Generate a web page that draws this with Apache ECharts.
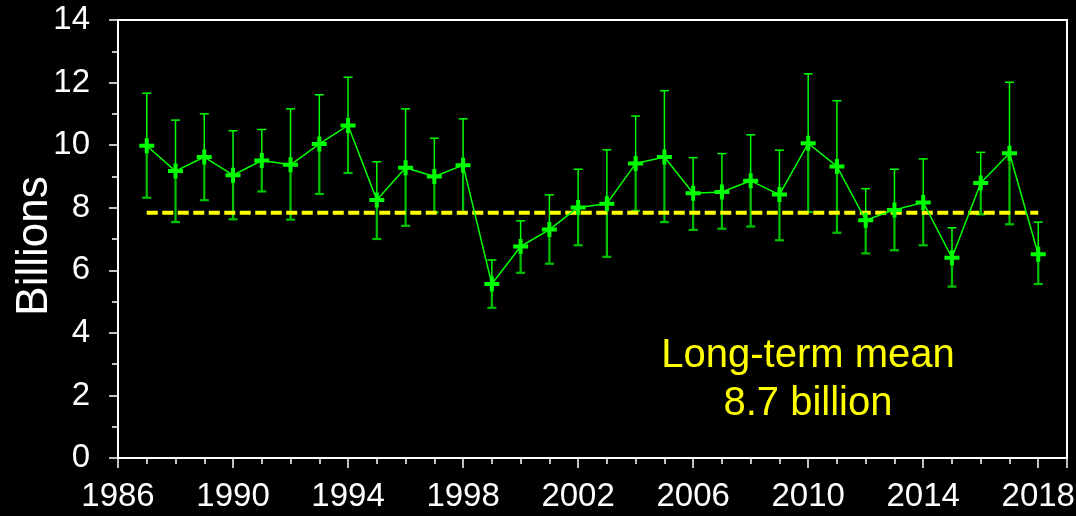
<!DOCTYPE html>
<html>
<head>
<meta charset="utf-8">
<style>
  html, body { margin: 0; padding: 0; background: #000; }
  #chart { width: 1076px; height: 516px; }
</style>
<script src="https://cdn.jsdelivr.net/npm/echarts@6/dist/echarts.min.js"></script>
</head>
<body>
<div id="chart"></div>
<script>
// yearly estimate, in billions, with upper / lower error bar ends
var years = [1987, 1988, 1989, 1990, 1991, 1992, 1993, 1994, 1995, 1996,
  1997, 1998, 1999, 2000, 2001, 2002, 2003, 2004, 2005, 2006,
  2007, 2008, 2009, 2010, 2011, 2012, 2013, 2014, 2015, 2016,
  2017, 2018];
var estimate = [9.98, 9.17, 9.62, 9.04, 9.51, 9.37, 10.04, 10.63, 8.25, 9.28,
  9.00, 9.36, 5.56, 6.76, 7.30, 8.01, 8.13, 9.41, 9.62, 8.46,
  8.50, 8.86, 8.42, 10.06, 9.32, 7.60, 7.93, 8.17, 6.40, 8.79,
  9.74, 6.51];
var upper = [11.66, 10.80, 11.00, 10.46, 10.50, 11.16, 11.61, 12.17, 9.47, 11.16,
  10.22, 10.84, 6.33, 7.58, 8.41, 9.23, 9.85, 10.93, 11.74, 9.60,
  9.73, 10.33, 9.84, 12.28, 11.42, 8.61, 9.23, 9.56, 7.36, 9.77,
  12.01, 7.54];
var lower = [8.32, 7.54, 8.24, 7.63, 8.52, 7.62, 8.44, 9.11, 7.00, 7.42,
  7.85, 7.82, 4.80, 5.92, 6.21, 6.80, 6.43, 7.90, 7.54, 7.29,
  7.33, 7.40, 6.96, 7.86, 7.20, 6.54, 6.64, 6.80, 5.48, 7.79,
  7.47, 5.56];
var meanLevel = 7.84;
var yTicks = [0, 2, 4, 6, 8, 10, 12, 14];

var chart = echarts.init(document.getElementById('chart'));

var font = '"Liberation Sans", Arial, sans-serif';

var barData = years.map(function (y, i) {
  return [y, lower[i], upper[i], estimate[i]];
});

function renderErrorBar(params, api) {
  var x = api.value(0);
  var pLo = api.coord([x, api.value(1)]);
  var pHi = api.coord([x, api.value(2)]);
  var pMid = api.coord([x, api.value(3)]);
  var w = 4.5;
  return {
    type: 'group',
    children: [
      { type: 'line', shape: { x1: pMid[0], y1: pMid[1], x2: pHi[0], y2: pHi[1] },
        style: { stroke: '#00ff00', lineWidth: 1.5 } },
      { type: 'line', shape: { x1: pHi[0] - w, y1: pHi[1], x2: pHi[0] + w, y2: pHi[1] },
        style: { stroke: '#00ff00', lineWidth: 1.5 } },
      { type: 'line', shape: { x1: pMid[0], y1: pMid[1], x2: pLo[0], y2: pLo[1] },
        style: { stroke: '#00c400', lineWidth: 2.2 } },
      { type: 'line', shape: { x1: pLo[0] - w, y1: pLo[1], x2: pLo[0] + w, y2: pLo[1] },
        style: { stroke: '#00c400', lineWidth: 2.2 } }
    ]
  };
}

var option = {
  backgroundColor: '#000',
  animation: false,
  grid: {
    left: 118, right: 9, top: 20, bottom: 58,
    outerBoundsMode: 'none', containLabel: false,
    show: true, borderColor: '#fff', borderWidth: 2, backgroundColor: 'transparent'
  },
  xAxis: [
    {
      type: 'value', min: 1986, max: 2019, interval: 1,
      axisLine: { show: true, onZero: false, lineStyle: { color: '#fff', width: 2 } },
      axisTick: { show: true, length: 6, lineStyle: { color: '#fff', width: 1.5 } },
      axisLabel: { show: false },
      splitLine: { show: false }
    },
    {
      type: 'value', min: 1986, max: 2019, interval: 4, position: 'bottom',
      axisLine: { show: false },
      axisTick: { show: true, length: 10, lineStyle: { color: '#fff', width: 1.5 } },
      axisLabel: {
        color: '#fff', fontSize: 33, fontFamily: font, margin: 22,
        formatter: function (v) { return v === 2019 ? '' : String(v); }
      },
      splitLine: { show: false }
    }
  ],
  yAxis: {
    type: 'value', min: yTicks[0], max: yTicks[yTicks.length - 1], interval: 2,
    name: 'Billions', nameLocation: 'middle', nameGap: 61, nameMoveOverlap: false,
    nameTextStyle: { color: '#fff', fontSize: 44, fontFamily: font, padding: [0, 14, 0, 0] },
    axisLine: { show: true, lineStyle: { color: '#fff', width: 2 } },
    axisTick: { show: true, length: 9, lineStyle: { color: '#fff', width: 1.5 } },
    minorTick: { show: true, splitNumber: 2, length: 6, lineStyle: { color: '#fff', width: 1.5 } },
    axisLabel: { color: '#fff', fontSize: 33, fontFamily: font, margin: 28 },
    splitLine: { show: false }
  },
  graphic: [
    {
      type: 'text', x: 808, y: 332,
      style: {
        text: 'Long-term mean\n8.7 billion', fill: '#ffff00',
        fontSize: 40, lineHeight: 48, fontFamily: font,
        align: 'center', verticalAlign: 'top'
      }
    }
  ],
  series: [
    {
      type: 'custom', renderItem: renderErrorBar, data: barData,
      encode: { x: 0, y: [1, 2] }, z: 1, silent: true
    },
    {
      type: 'line', data: [[years[0], meanLevel], [years[years.length - 1], meanLevel]],
      symbol: 'none', z: 2, silent: true,
      lineStyle: { color: '#ffff00', width: 4, type: [11, 4.5] }
    },
    {
      type: 'line', data: years.map(function (y, i) { return [y, estimate[i]]; }),
      z: 3, silent: true,
      lineStyle: { color: '#00ff00', width: 1.5 },
      symbol: 'path://M5.5,0H9.5V5.5H15V9.5H9.5V15H5.5V9.5H0V5.5H5.5Z',
      symbolSize: [15, 15],
      itemStyle: { color: '#00ff00' }
    }
  ]
};

chart.setOption(option);
</script>
</body>
</html>
